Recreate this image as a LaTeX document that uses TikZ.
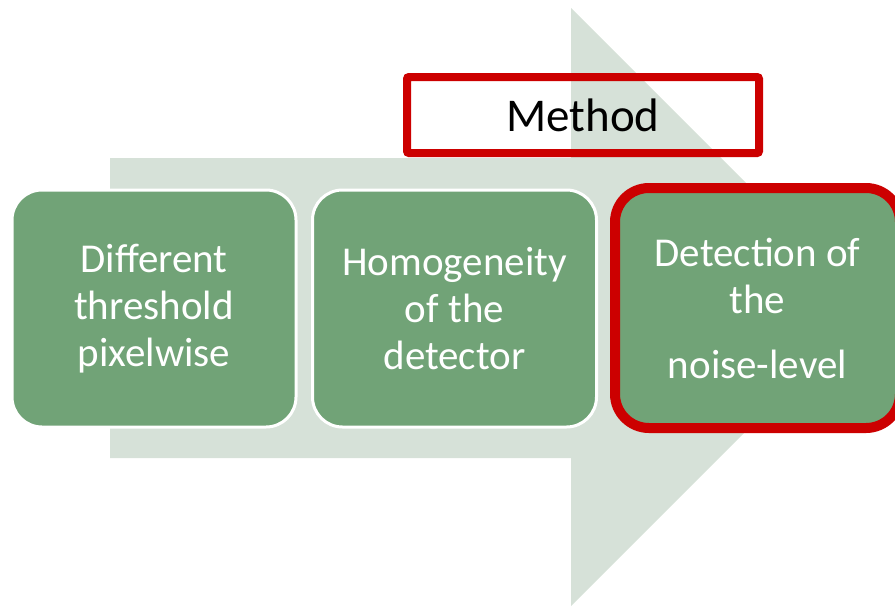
\documentclass[tikz,border=0pt]{standalone}
\usepackage{fontspec}
\setmainfont{Carlito}
\definecolor{arrowgreen}{HTML}{D6E1D8}
\definecolor{boxgreen}{HTML}{71A377}
\definecolor{markred}{HTML}{CC0000}
\begin{document}
\begin{tikzpicture}[x=1pt,y=-1pt,
        stage/.style={fill=boxgreen,draw=white,line width=3pt,rounded corners=30pt,
            minimum width=284pt,minimum height=237pt,inner sep=0pt,text=white,
            align=center,font=\fontsize{41}{47}\selectfont},
        picked/.style={stage,draw=markred,line width=10pt,rounded corners=34pt,
            minimum width=285pt,minimum height=240pt}]
            \useasboundingbox (0,0) rectangle (895,606);

            \fill[arrowgreen] (110,158) -- (571,158) -- (571,8) -- (870,307)
                -- (571,606) -- (571,458) -- (110,458) -- cycle;

            \node[draw=markred,line width=8pt,rounded corners=2pt,minimum width=352pt,
                minimum height=76pt,inner sep=0pt,font=\fontsize{47}{56}\selectfont]
                (method) at (583,115) {Method};

            \node[stage] (threshold) at (154,308.5) {Different\\threshold\\pixelwise};
            \node[stage] (homogeneity) at (454.5,308.5) {Homogeneity\\of the\\detector};
            \node[picked] (noise) at (757.5,308) {Detection of\\the\\[18pt]noise-level};
        \end{tikzpicture}
\end{document}
